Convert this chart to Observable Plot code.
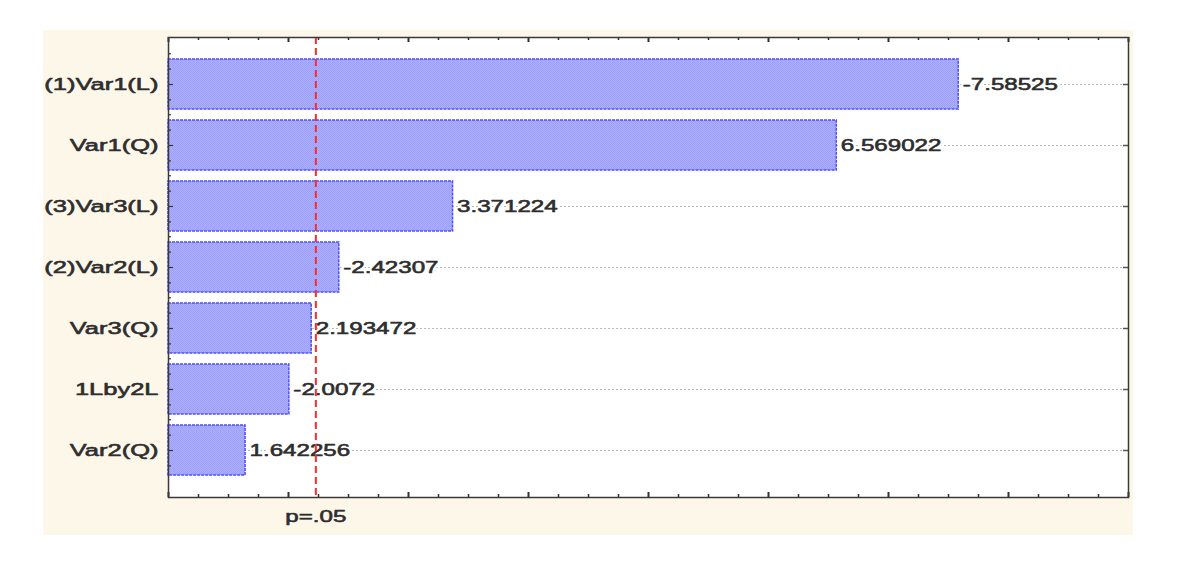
<!DOCTYPE html>
<html><head><meta charset="utf-8">
<script src="https://cdn.jsdelivr.net/npm/d3@7"></script>
<script src="https://cdn.jsdelivr.net/npm/@observablehq/plot@0.6"></script>
<style>
body{margin:0;background:#fff;}
#wrap{position:relative;width:1181px;height:579px;overflow:hidden;}
#panel{position:absolute;left:43px;top:30px;width:1090px;height:505px;background:#fdf7ea;}
#chart{position:absolute;left:0;top:0;}
</style></head><body>
<div id="wrap"><div id="panel"></div><div id="chart"></div></div>
<script>
// Data
const effects = ["(1)Var1(L)", "Var1(Q)", "(3)Var3(L)", "(2)Var2(L)", "Var3(Q)", "1Lby2L", "Var2(Q)"];
const tValues = [-7.58525, 6.569022, 3.371224, -2.42307, 2.193472, -2.0072, 1.642256];
const pLabel = "p=.05";
const pCritical = 2.228;
const xDomain = [1, 9];
const majorTicks = [1, 2, 3, 4, 5, 6, 7, 8, 9];
const minorTicks = d3.range(1, 9.001, 0.25).filter(v => !Number.isInteger(v));

const data = effects.map((name, i) => ({name, t: tValues[i], abs: Math.abs(tValues[i]), label: String(tValues[i])}));

const W = 1181, H = 579, mL = 168, mR = 53, mT = 37, mB = 82;
const innerW = W - mL - mR, innerH = H - mT - mB;
const font = "'Liberation Sans', Arial, sans-serif";
const txt = "#2e2e2e";

const plot = Plot.plot({
  width: W, height: H,
  marginLeft: mL, marginRight: mR, marginTop: mT, marginBottom: mB,
  style: {background: "transparent", fontFamily: font, overflow: "visible"},
  x: {domain: xDomain, axis: null},
  y: {domain: effects, axis: null, paddingInner: 0.187, paddingOuter: 0.333},
  marks: [
    Plot.frame({fill: "white", stroke: "none"}),
    Plot.ruleY(effects, {y: d => d, stroke: "#b8b8b8", strokeWidth: 1, strokeDasharray: "2,2"}),
    Plot.barX(data, {y: "name", x1: () => xDomain[0], x2: "abs", fill: "url(#hatch)", stroke: "#4d4dff", strokeWidth: 1.5, strokeDasharray: "3,1"}),
    Plot.text(data, {y: "name", x: "abs", text: "label", textAnchor: "start", dx: 4, fontSize: 17, fill: "white", stroke: "white", strokeWidth: 4}),
    Plot.text(data, {y: "name", x: "abs", text: "label", textAnchor: "start", dx: 4, fontSize: 17, fill: txt, stroke: txt, strokeWidth: 0.6}),
    Plot.text(effects, {y: d => d, frameAnchor: "left", textAnchor: "end", dx: -10, fontSize: 17, fill: txt, stroke: txt, strokeWidth: 0.6}),
    // bottom & top inward ticks
    Plot.ruleX(minorTicks, {x: d => d, insetTop: innerH - 3, stroke: "#333", strokeWidth: 1.5}),
    Plot.ruleX(majorTicks, {x: d => d, insetTop: innerH - 5, stroke: "#333", strokeWidth: 2}),
    Plot.ruleX(minorTicks, {x: d => d, insetBottom: innerH - 3, stroke: "#333", strokeWidth: 1.5}),
    Plot.ruleX(majorTicks, {x: d => d, insetBottom: innerH - 5, stroke: "#333", strokeWidth: 2}),
    // left ticks
    Plot.ruleY(effects, {y: d => d, insetRight: innerW - 5, stroke: "#333", strokeWidth: 1.2}),
    Plot.ruleY(effects, {y: d => d, dy: -15.4, insetRight: innerW - 3, stroke: "#333", strokeWidth: 1.2}),
    Plot.ruleY(effects, {y: d => d, dy: 15.4, insetRight: innerW - 3, stroke: "#333", strokeWidth: 1.2}),
    Plot.ruleY(effects, {y: d => d, dy: -30.75, insetRight: innerW - 3, stroke: "#333", strokeWidth: 1.2}),
    // right ticks
    Plot.ruleY(effects, {y: d => d, insetLeft: innerW - 5, stroke: "#555", strokeWidth: 1.5}),
    // critical line
    Plot.ruleX([pCritical], {x: d => d, stroke: "#ff2a2a", strokeWidth: 2, strokeDasharray: "7,4"}),
    Plot.text([pCritical], {x: d => d, frameAnchor: "bottom", dy: 24, text: () => pLabel, fontSize: 17, fill: txt, stroke: txt, strokeWidth: 0.6}),
    Plot.frame({stroke: "#3a3a3a", strokeWidth: 1.5})
  ]
});

// hatch pattern definition
const ns = "http://www.w3.org/2000/svg";
const defs = document.createElementNS(ns, "defs");
defs.innerHTML = `<pattern id="hatch" width="2" height="2" patternUnits="userSpaceOnUse">
  <rect width="2" height="2" fill="#aeb0ff"/>
  <rect width="1" height="1" fill="#9c9ff7"/>
  <rect x="1" y="1" width="1" height="1" fill="#9c9ff7"/>
</pattern>`;
plot.insertBefore(defs, plot.firstChild);

// widen glyphs horizontally like the reference
plot.querySelectorAll('g[aria-label="text"]').forEach((g, gi) => {
  const sx = gi === 2 ? 1.5 : 1.42;
  g.querySelectorAll("text").forEach(t => {
    let tr = t.getAttribute("transform");
    if (!tr) {
      const x = t.getAttribute("x") || 0, y = t.getAttribute("y") || 0;
      t.removeAttribute("x"); t.removeAttribute("y");
      tr = `translate(${x},${y})`;
    }
    t.setAttribute("transform", tr + ` scale(${sx},1)`);
  });
});

document.getElementById("chart").appendChild(plot);
</script>
</body></html>
